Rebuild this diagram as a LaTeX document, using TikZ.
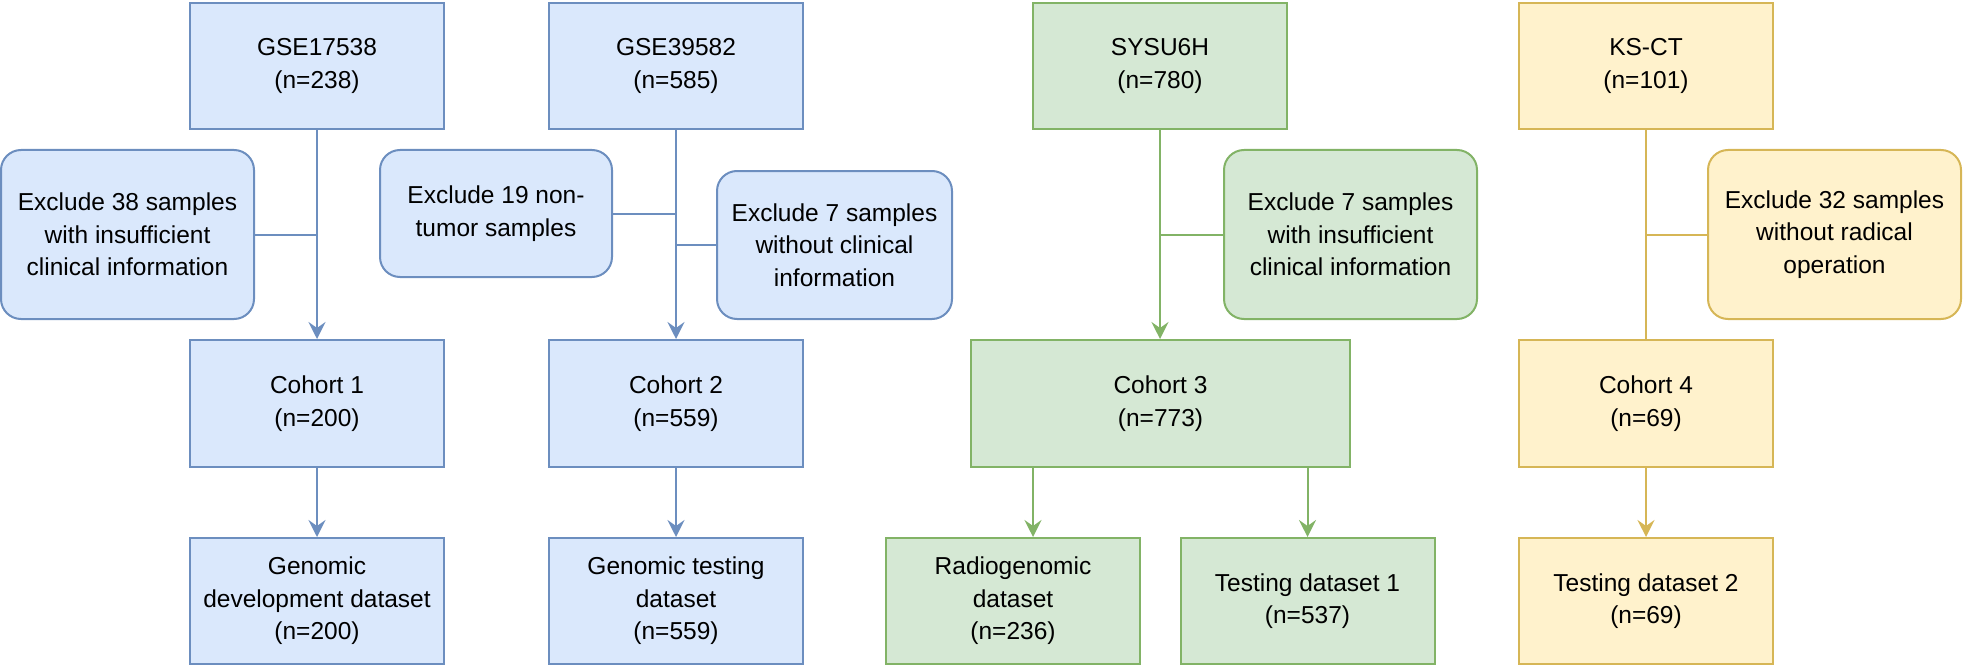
\documentclass[tikz,border=0pt]{standalone}
\usepackage{fontspec}
\setmainfont{Liberation Sans}
\usetikzlibrary{arrows.meta,calc}
\definecolor{bfill}{HTML}{DAE8FC}
\definecolor{bline}{HTML}{6C8EBF}
\definecolor{gfill}{HTML}{D5E8D4}
\definecolor{gline}{HTML}{82B366}
\definecolor{yfill}{HTML}{FFF2CC}
\definecolor{yline}{HTML}{D6B656}
\begin{document}
\begin{tikzpicture}[x=1pt,y=-1pt,
  box/.style={rectangle, line width=2pt, align=center, inner sep=0pt,
    font=\fontsize{24.5}{32.5}\selectfont},
  bbox/.style={box, draw=bline, fill=bfill},
  gbox/.style={box, draw=gline, fill=gfill},
  ybox/.style={box, draw=yline, fill=yfill},
  src/.style={minimum width=254pt, minimum height=126pt},
  wide/.style={minimum width=379pt, minimum height=127pt},
  excl/.style={rounded corners=20pt},
  conn/.style={line width=2pt},
  arr/.style={conn, -{Stealth[length=17pt,width=17pt,inset=6pt]}},
]
\useasboundingbox (0,0) rectangle (1965,666);

% Column 1
\node[bbox,src] (gse1) at (317,66) {GSE17538\\(n=238)};
\node[bbox,excl,minimum width=253pt,minimum height=169pt] (ex38) at (127.5,234.5) {Exclude 38 samples\\with insufficient\\clinical information};
\node[bbox,src,minimum height=127pt] (c1) at (317,403.5) {Cohort 1\\(n=200)};
\node[bbox,src] (gd) at (317,601) {Genomic\\development dataset\\(n=200)};

% Column 2
\node[bbox,src] (gse2) at (676,66) {GSE39582\\(n=585)};
\node[bbox,excl,minimum width=232pt,minimum height=127pt] (ex19) at (496,213.5) {Exclude 19 non-\\tumor samples};
\node[bbox,excl,minimum width=235pt,minimum height=148pt] (ex7b) at (834.5,245) {Exclude 7 samples\\without clinical\\information};
\node[bbox,src,minimum height=127pt] (c2) at (676,403.5) {Cohort 2\\(n=559)};
\node[bbox,src] (gt) at (676,601) {Genomic testing\\dataset\\(n=559)};

% Column 3
\node[gbox,src] (sysu) at (1160,66) {SYSU6H\\(n=780)};
\node[gbox,excl,minimum width=253pt,minimum height=169pt] (ex7g) at (1350.5,234.5) {Exclude 7 samples\\with insufficient\\clinical information};
\node[gbox,wide] (c3) at (1160.5,403.5) {Cohort 3\\(n=773)};
\node[gbox,src] (rg) at (1013,601) {Radiogenomic\\dataset\\(n=236)};
\node[gbox,src] (t1) at (1307.5,601) {Testing dataset 1\\(n=537)};

% Column 4
\node[ybox,src] (ks) at (1646,66) {KS-CT\\(n=101)};
\node[ybox,excl,minimum width=253pt,minimum height=169pt] (ex32) at (1834.5,234.5) {Exclude 32 samples\\without radical\\operation};
\node[ybox,src,minimum height=127pt] (c4) at (1646,403.5) {Cohort 4\\(n=69)};
\node[ybox,src] (t2) at (1646,601) {Testing dataset 2\\(n=69)};

% Connectors column 1
\draw[arr,bline] (gse1.south) -- (c1.north);
\draw[conn,bline] (ex38.east) -- (ex38.east -| gse1.south);
\draw[arr,bline] (c1.south) -- (gd.north);

% Connectors column 2
\draw[arr,bline] (gse2.south) -- (c2.north);
\draw[conn,bline] (ex19.east) -- (ex19.east -| gse2.south);
\draw[conn,bline] (ex7b.west) -- (ex7b.west -| gse2.south);
\draw[arr,bline] (c2.south) -- (gt.north);

% Connectors column 3
\draw[arr,gline] (sysu.south) -- (sysu.south |- c3.north);
\draw[conn,gline] (ex7g.west) -- (ex7g.west -| sysu.south);
\draw[arr,gline] ([xshift=20pt]rg.north |- c3.south) -- ([xshift=20pt]rg.north);
\draw[arr,gline] (t1.north |- c3.south) -- (t1.north);

% Connectors column 4
\draw[conn,yline] (ks.south) -- (c4.north);
\draw[conn,yline] (ex32.west) -- (ex32.west -| ks.south);
\draw[arr,yline] (c4.south) -- (t2.north);
\end{tikzpicture}
\end{document}
